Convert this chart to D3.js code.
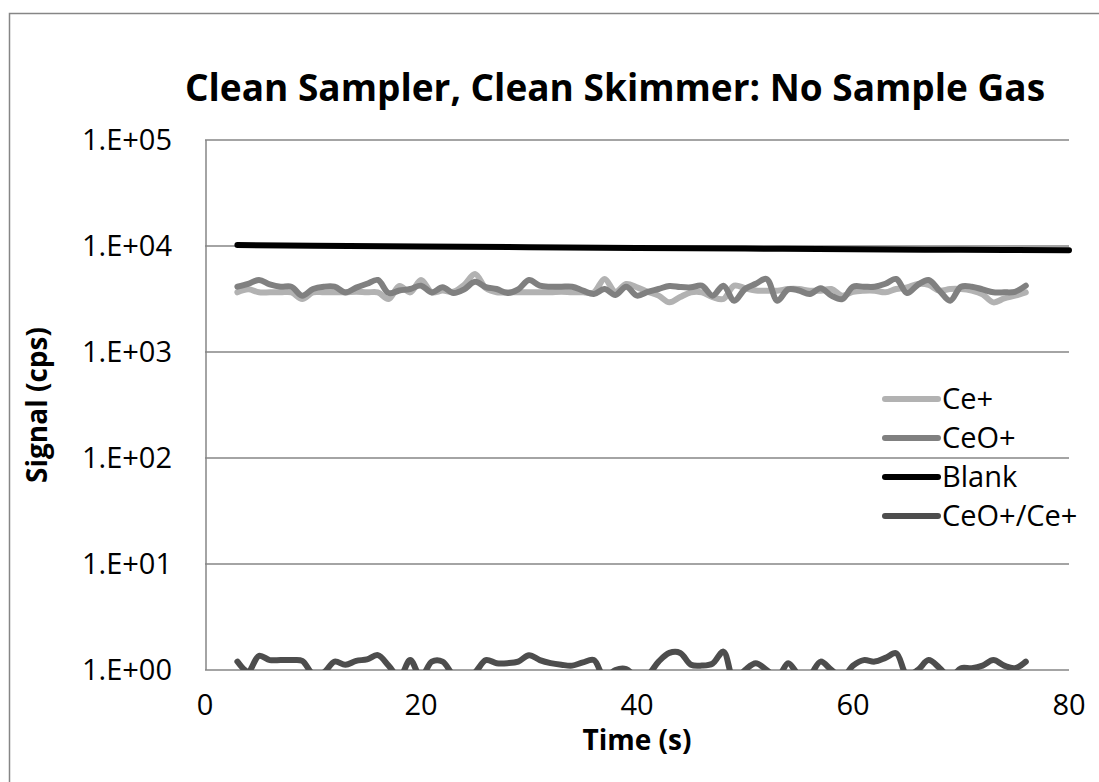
<!DOCTYPE html>
<html>
  <head>
    <meta charset="UTF-8" />
    <script src="https://cdnjs.cloudflare.com/ajax/libs/d3/7.8.5/d3.min.js"></script>
    <style>
      body { margin: 0; background: #fff; }
      text { font-family: "Open Sans", sans-serif; fill: #000; }
    </style>
  </head>
  <body>
    <svg id="chart" width="1099" height="782"></svg>
    <script>
      // time (s), one reading per second
      const times = d3.range(3, 77);

      const cePlus = [
        3655, 3900, 3655, 3655, 3655, 3655, 3160, 3655, 3655, 3655,
        3655, 3700, 3655, 3655, 3160, 4200, 3650, 4780, 3655, 3800,
        3700, 4300, 5445, 4000, 3655, 3655, 3655, 3655, 3655, 3655,
        3700, 3655, 3655, 3655, 4885, 3700, 4380, 4075, 3700, 3400,
        2940, 3300, 3655, 3655, 3300, 3160, 4225, 4000, 3800, 3790,
        3790, 3930, 3930, 3790, 3790, 3930, 3400, 3700, 3790, 3790,
        3655, 3930, 4075, 4380, 4300, 3790, 3930, 3930, 3790, 3500,
        2940, 3200, 3400, 3655
      ];

      const ceoPlus = [
        4130, 4400, 4780, 4350, 4130, 4130, 3400, 3930, 4130, 4130,
        3650, 4050, 4400, 4780, 3600, 3800, 3930, 4225, 3650, 4075,
        3600, 3900, 4600, 4100, 3930, 3600, 3900, 4780, 4225, 4130,
        4130, 4130, 3800, 3530, 3930, 3450, 4130, 3400, 3700, 3930,
        4200, 4100, 4075, 4225, 3400, 4225, 3050, 3930, 4400, 4885,
        3050, 3900, 3800, 3525, 4000, 3400, 3150, 4130, 4130, 4130,
        4400, 4885, 3600, 4300, 4780, 3800, 3050, 4130, 4130, 3900,
        3655, 3655, 3700, 4225
      ];

      const ratio = [
        1.20, 0.97, 1.36, 1.24, 1.24, 1.24, 1.22, 0.92, 0.95, 1.20,
        1.12, 1.22, 1.26, 1.38, 1.10, 0.85, 1.24, 0.85, 1.20, 1.20,
        0.90, 0.85, 0.95, 1.24, 1.16, 1.16, 1.20, 1.38, 1.24, 1.16,
        1.12, 1.10, 1.18, 1.24, 0.85, 1.00, 1.02, 0.85, 0.90, 1.20,
        1.45, 1.45, 1.12, 1.10, 1.15, 1.49, 0.80, 1.00, 1.16, 1.00,
        0.85, 1.16, 0.90, 0.90, 1.20, 1.00, 0.85, 1.10, 1.24, 1.20,
        1.30, 1.44, 0.90, 1.00, 1.24, 1.05, 0.85, 1.04, 1.04, 1.10,
        1.24, 1.10, 1.04, 1.20
      ];

      const blankTimes = [3, 10, 20, 30, 40, 50, 60, 70, 80];
      const blank = [10200, 10050, 9900, 9750, 9600, 9450, 9300, 9200, 9100];

      const seriesNames = ["Ce+", "CeO+", "Blank", "CeO+/Ce+"];
      const seriesColors = ["#b2b2b2", "#808080", "#000000", "#4d4d4d"];
      const xTicks = [0, 20, 40, 60, 80];
      const yTicks = [1, 10, 100, 1000, 10000, 100000];

      const svg = d3.select("#chart");
      const plotLeft = 205, plotRight = 1069, plotTop = 140, plotBottom = 670;

      const x = d3.scaleLinear().domain([0, 80]).range([plotLeft, plotRight]);
      const y = d3.scaleLog().domain([1, 100000]).range([plotBottom, plotTop]);

      // outer chart border
      svg.append("rect")
        .attr("x", 9.5).attr("y", 13.5)
        .attr("width", 1200).attr("height", 900)
        .attr("fill", "none").attr("stroke", "#868686").attr("stroke-width", 1.5);

      // gridlines
      svg.append("g")
        .selectAll("line")
        .data(yTicks)
        .join("line")
        .attr("x1", plotLeft).attr("x2", plotRight)
        .attr("y1", d => y(d)).attr("y2", d => y(d))
        .attr("stroke", "#868686").attr("stroke-width", 1.5);

      // y axis line
      svg.append("line")
        .attr("x1", plotLeft + 1).attr("x2", plotLeft + 1)
        .attr("y1", plotTop).attr("y2", plotBottom)
        .attr("stroke", "#868686").attr("stroke-width", 1.5);

      // y tick labels
      svg.append("g")
        .selectAll("text")
        .data(yTicks)
        .join("text")
        .attr("x", plotLeft - 33)
        .attr("y", d => y(d))
        .attr("dy", "0.36em")
        .attr("text-anchor", "end")
        .style("font-size", "29px")
        .text(d => "1.E+" + d3.format("02")(Math.round(Math.log10(d))));

      // x tick labels
      svg.append("g")
        .selectAll("text")
        .data(xTicks)
        .join("text")
        .attr("x", d => x(d))
        .attr("y", plotBottom + 35)
        .attr("dy", "0.36em")
        .attr("text-anchor", "middle")
        .style("font-size", "29px")
        .text(d => d);

      svg.append("clipPath").attr("id", "plot")
        .append("rect")
        .attr("x", plotLeft).attr("y", plotTop - 10)
        .attr("width", plotRight - plotLeft + 10).attr("height", plotBottom - plotTop + 10);

      const line = d3.line()
        .x(d => x(d[0]))
        .y(d => y(d[1]))
        .curve(d3.curveCatmullRom.alpha(0.5));

      const lines = [
        d3.zip(times, cePlus),
        d3.zip(times, ceoPlus),
        d3.zip(blankTimes, blank),
        d3.zip(times, ratio)
      ];

      svg.append("g")
        .attr("clip-path", "url(#plot)")
        .selectAll("path")
        .data(lines)
        .join("path")
        .attr("d", line)
        .attr("fill", "none")
        .attr("stroke", (d, i) => seriesColors[i])
        .attr("stroke-width", 6)
        .attr("stroke-linejoin", "round")
        .attr("stroke-linecap", "round");

      // title
      svg.append("text")
        .attr("x", 615).attr("y", 101)
        .attr("text-anchor", "middle")
        .style("font-size", "37px").style("font-weight", "bold")
        .text("Clean Sampler, Clean Skimmer: No Sample Gas");

      // axis titles
      svg.append("text")
        .attr("x", (plotLeft + plotRight) / 2).attr("y", 750)
        .attr("text-anchor", "middle")
        .style("font-size", "28px").style("font-weight", "bold")
        .text("Time (s)");

      svg.append("text")
        .attr("transform", `translate(47,${(plotTop + plotBottom) / 2}) rotate(-90)`)
        .attr("text-anchor", "middle")
        .style("font-size", "28px").style("font-weight", "bold")
        .text("Signal (cps)");

      // legend
      const legend = svg.append("g")
        .selectAll("g")
        .data(seriesNames)
        .join("g")
        .attr("transform", (d, i) => `translate(885,${399 + i * 39})`);

      legend.append("line")
        .attr("x1", 0).attr("x2", 53)
        .attr("stroke", (d, i) => seriesColors[i])
        .attr("stroke-width", 6)
        .attr("stroke-linecap", "round");

      legend.append("text")
        .attr("x", 57)
        .attr("dy", "0.36em")
        .style("font-size", "29px")
        .text(d => d);
    </script>
  </body>
</html>
